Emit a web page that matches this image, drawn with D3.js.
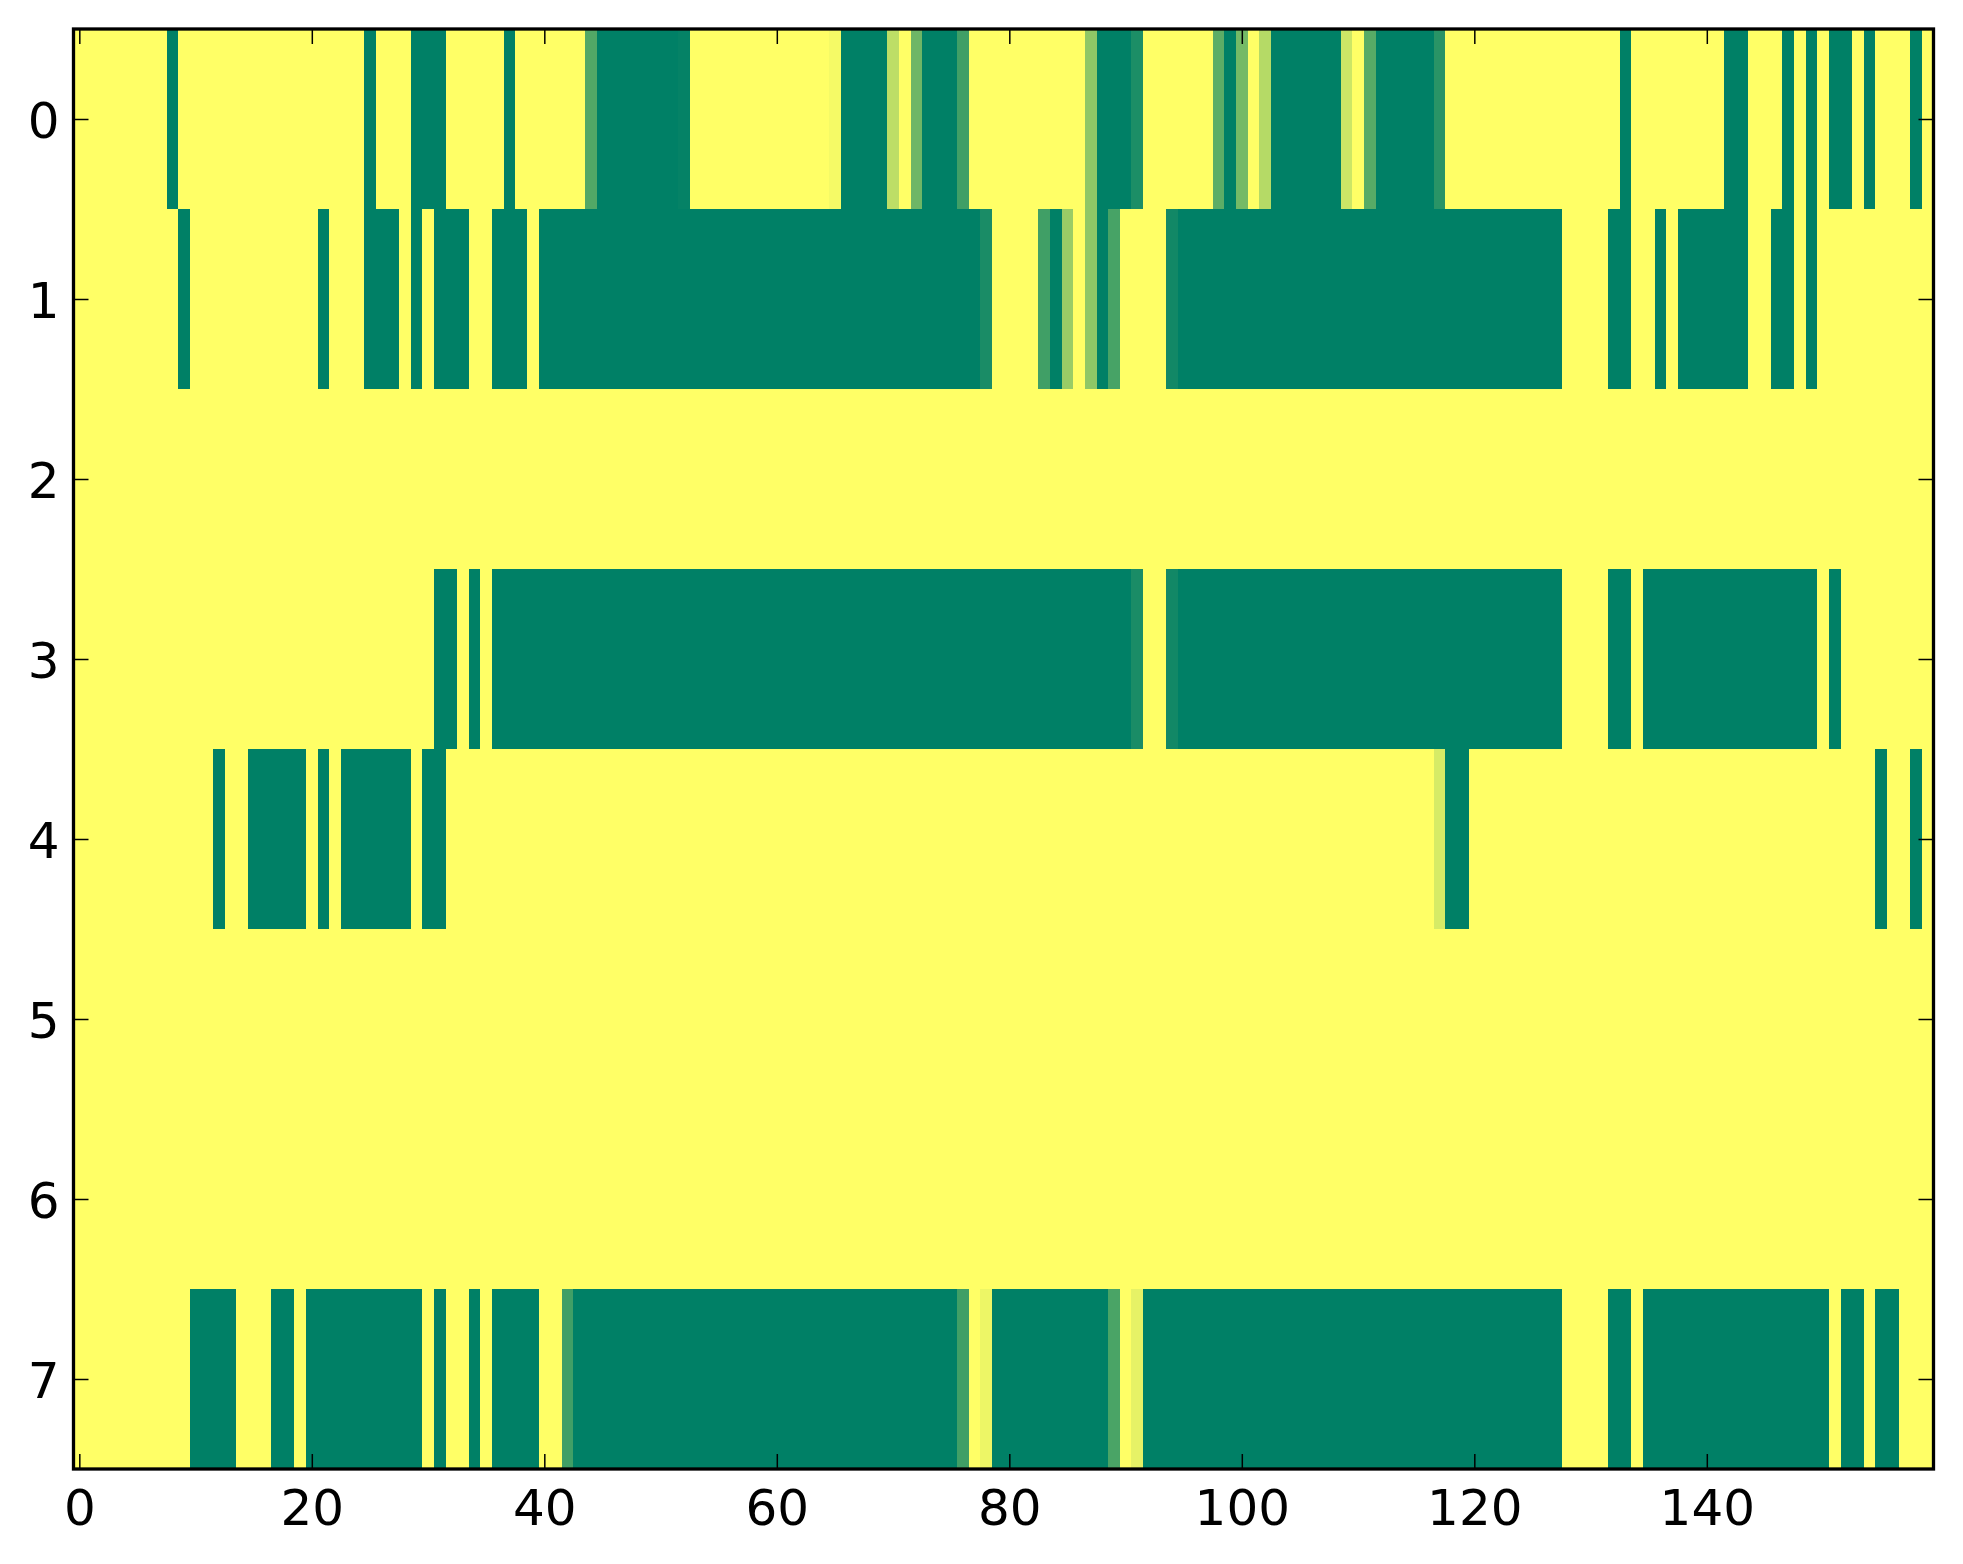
<!DOCTYPE html>
<html>
<head>
<meta charset="utf-8">
<script src="https://cdnjs.cloudflare.com/ajax/libs/d3/7.8.5/d3.min.js"></script>
<style>
  body { margin: 0; background: #fff; }
  .tick text { font-family: "DejaVu Sans", sans-serif; font-size: 50px; fill: #000; }
  .tick line { stroke: #000; stroke-width: 1.5px; }
</style>
</head>
<body>
<div class="heatmap"></div>
<script>
// one array per image row, 160 columns each, values 0..1 (summer colormap)
var row0 = [
  1,1,1,1,1,1,1,1,0,1, 1,1,1,1,1,1,1,1,1,1,
  1,1,1,1,1,0,1,1,1,0, 0,0,1,1,1,1,1,0,1,1,
  1,1,1,1,0.32,0,0,0,0,0, 0,0,0.02,1,1,1,1,1,1,1,
  1,1,1,1,1,0.96,0,0,0,0, 0.74,1,0.43,0,0,0,0.25,1,1,1,
  1,1,1,1,1,1,1,0.56,0,0, 0,0.11,1,1,1,1,1,1,0.36,0,
  0.46,1,0.71,0,0,0,0,0,0,0.8, 1,0.34,0,0,0,0,0,0.16,1,1,
  1,1,1,1,1,1,1,1,1,1, 1,1,1,0,1,1,1,1,1,1,
  1,1,0,0,1,1,1,0,1,0, 1,0,0,1,0,1,1,1,0,1
];
var row1 = [
  1,1,1,1,1,1,1,1,1,0, 1,1,1,1,1,1,1,1,1,1,
  1,0,1,1,1,0,0,0,1,0, 1,0,0,0,1,1,0,0,0,1,
  0,0,0,0,0,0,0,0,0,0, 0,0,0,0,0,0,0,0,0,0,
  0,0,0,0,0,0,0,0,0,0, 0,0,0,0,0,0,0,0,0.1,1,
  1,1,1,0.25,0,0.6,1,0.56,0,0.28, 1,1,1,1,0.07,0,0,0,0,0,
  0,0,0,0,0,0,0,0,0,0, 0,0,0,0,0,0,0,0,0,0,
  0,0,0,0,0,0,0,0,1,1, 1,1,0,0,1,1,0,1,0,0,
  0,0,0,0,1,1,0,0,1,0, 1,1,1,1,1,1,1,1,1,1
];
var row2 = [
  1,1,1,1,1,1,1,1,1,1, 1,1,1,1,1,1,1,1,1,1,
  1,1,1,1,1,1,1,1,1,1, 1,1,1,1,1,1,1,1,1,1,
  1,1,1,1,1,1,1,1,1,1, 1,1,1,1,1,1,1,1,1,1,
  1,1,1,1,1,1,1,1,1,1, 1,1,1,1,1,1,1,1,1,1,
  1,1,1,1,1,1,1,1,1,1, 1,1,1,1,1,1,1,1,1,1,
  1,1,1,1,1,1,1,1,1,1, 1,1,1,1,1,1,1,1,1,1,
  1,1,1,1,1,1,1,1,1,1, 1,1,1,1,1,1,1,1,1,1,
  1,1,1,1,1,1,1,1,1,1, 1,1,1,1,1,1,1,1,1,1
];
var row3 = [
  1,1,1,1,1,1,1,1,1,1, 1,1,1,1,1,1,1,1,1,1,
  1,1,1,1,1,1,1,1,1,1, 1,0,0,1,0,1,0,0,0,0,
  0,0,0,0,0,0,0,0,0,0, 0,0,0,0,0,0,0,0,0,0,
  0,0,0,0,0,0,0,0,0,0, 0,0,0,0,0,0,0,0,0,0,
  0,0,0,0,0,0,0,0,0,0, 0,0.1,1,1,0.07,0,0,0,0,0,
  0,0,0,0,0,0,0,0,0,0, 0,0,0,0,0,0,0,0,0,0,
  0,0,0,0,0,0,0,0,1,1, 1,1,0,0,1,0,0,0,0,0,
  0,0,0,0,0,0,0,0,0,0, 1,0,1,1,1,1,1,1,1,1
];
var row4 = [
  1,1,1,1,1,1,1,1,1,1, 1,1,0,1,1,0,0,0,0,0,
  1,0,1,0,0,0,0,0,0,1, 0,0,1,1,1,1,1,1,1,1,
  1,1,1,1,1,1,1,1,1,1, 1,1,1,1,1,1,1,1,1,1,
  1,1,1,1,1,1,1,1,1,1, 1,1,1,1,1,1,1,1,1,1,
  1,1,1,1,1,1,1,1,1,1, 1,1,1,1,1,1,1,1,1,1,
  1,1,1,1,1,1,1,1,1,1, 1,1,1,1,1,1,1,0.84,0,0,
  1,1,1,1,1,1,1,1,1,1, 1,1,1,1,1,1,1,1,1,1,
  1,1,1,1,1,1,1,1,1,1, 1,1,1,1,1,0,1,1,0,1
];
var row5 = [
  1,1,1,1,1,1,1,1,1,1, 1,1,1,1,1,1,1,1,1,1,
  1,1,1,1,1,1,1,1,1,1, 1,1,1,1,1,1,1,1,1,1,
  1,1,1,1,1,1,1,1,1,1, 1,1,1,1,1,1,1,1,1,1,
  1,1,1,1,1,1,1,1,1,1, 1,1,1,1,1,1,1,1,1,1,
  1,1,1,1,1,1,1,1,1,1, 1,1,1,1,1,1,1,1,1,1,
  1,1,1,1,1,1,1,1,1,1, 1,1,1,1,1,1,1,1,1,1,
  1,1,1,1,1,1,1,1,1,1, 1,1,1,1,1,1,1,1,1,1,
  1,1,1,1,1,1,1,1,1,1, 1,1,1,1,1,1,1,1,1,1
];
var row6 = [
  1,1,1,1,1,1,1,1,1,1, 1,1,1,1,1,1,1,1,1,1,
  1,1,1,1,1,1,1,1,1,1, 1,1,1,1,1,1,1,1,1,1,
  1,1,1,1,1,1,1,1,1,1, 1,1,1,1,1,1,1,1,1,1,
  1,1,1,1,1,1,1,1,1,1, 1,1,1,1,1,1,1,1,1,1,
  1,1,1,1,1,1,1,1,1,1, 1,1,1,1,1,1,1,1,1,1,
  1,1,1,1,1,1,1,1,1,1, 1,1,1,1,1,1,1,1,1,1,
  1,1,1,1,1,1,1,1,1,1, 1,1,1,1,1,1,1,1,1,1,
  1,1,1,1,1,1,1,1,1,1, 1,1,1,1,1,1,1,1,1,1
];
var row7 = [
  1,1,1,1,1,1,1,1,1,1, 0,0,0,0,1,1,1,0,0,1,
  0,0,0,0,0,0,0,0,0,0, 1,0,1,1,0,1,0,0,0,0,
  1,1,0.25,0,0,0,0,0,0,0, 0,0,0,0,0,0,0,0,0,0,
  0,0,0,0,0,0,0,0,0,0, 0,0,0,0,0,0,0.25,1,0.93,0,
  0,0,0,0,0,0,0,0,0,0.29, 1,0.9,0,0,0,0,0,0,0,0,
  0,0,0,0,0,0,0,0,0,0, 0,0,0,0,0,0,0,0,0,0,
  0,0,0,0,0,0,0,0,1,1, 1,1,0,0,1,0,0,0,0,0,
  0,0,0,0,0,0,0,0,0,0, 0,1,0,0,1,0,0,1,1,1
];
var rows = [row0, row1, row2, row3, row4, row5, row6, row7];

var xTicks = [0, 20, 40, 60, 80, 100, 120, 140],
    yTicks = [0, 1, 2, 3, 4, 5, 6, 7];

var margin = {top: 29, right: 29.5, bottom: 95, left: 73.5},
    fullWidth = 1963,
    fullHeight = 1564,
    width = fullWidth - margin.left - margin.right,
    height = fullHeight - margin.top - margin.bottom;

var x = d3.scaleLinear()
    .domain([-0.5, row0.length - 0.5])
    .range([0, width]);

var y = d3.scaleLinear()
    .domain([-0.5, rows.length - 0.5])
    .range([0, height]);

// matplotlib "summer": r = v, g = 0.5 + v/2, b = 0.4
function summer(v) {
  return d3.rgb(255 * v, 127.5 + 127.5 * v, 102).toString();
}

var svg = d3.select(".heatmap")
  .append("svg")
    .attr("width", fullWidth)
    .attr("height", fullHeight)
  .append("g")
    .attr("transform", "translate(" + margin.left + "," + margin.top + ")");

var cells = [];
rows.forEach(function(r, i) {
  r.forEach(function(v, j) { cells.push({row: i, col: j, value: v}); });
});

svg.append("g")
    .attr("class", "cells")
    .attr("shape-rendering", "crispEdges")
  .selectAll("rect")
    .data(cells)
  .enter().append("rect")
    .attr("x", function(d) { return x(d.col - 0.5); })
    .attr("y", function(d) { return y(d.row - 0.5); })
    .attr("width", function(d) { return x(d.col + 0.5) - x(d.col - 0.5) + 0.4; })
    .attr("height", function(d) { return y(d.row + 0.5) - y(d.row - 0.5) + 0.4; })
    .style("fill", function(d) { return summer(d.value); });

// ticks point inwards on all four sides, labels only left and bottom
var tickLen = 15;

svg.append("g")
    .attr("class", "x axis")
    .attr("transform", "translate(0," + height + ")")
    .call(d3.axisBottom(x).tickValues(xTicks).tickSizeInner(-tickLen).tickSizeOuter(0).tickPadding(20));

svg.append("g")
    .attr("class", "x axis top")
    .call(d3.axisTop(x).tickValues(xTicks).tickSizeInner(-tickLen).tickSizeOuter(0).tickFormat(""));

svg.append("g")
    .attr("class", "y axis")
    .call(d3.axisLeft(y).tickValues(yTicks).tickSizeInner(-tickLen).tickSizeOuter(0).tickPadding(14))
  .selectAll(".tick text")
    .attr("dy", "0.36em");

svg.append("g")
    .attr("class", "y axis right")
    .attr("transform", "translate(" + width + ",0)")
    .call(d3.axisRight(y).tickValues(yTicks).tickSizeInner(-tickLen).tickSizeOuter(0).tickFormat(""));

svg.selectAll(".axis .domain").remove();

svg.append("rect")
    .attr("class", "frame")
    .attr("width", width)
    .attr("height", height)
    .style("fill", "none")
    .style("stroke", "#000")
    .style("stroke-width", "3.3px");
</script>
</body>
</html>
